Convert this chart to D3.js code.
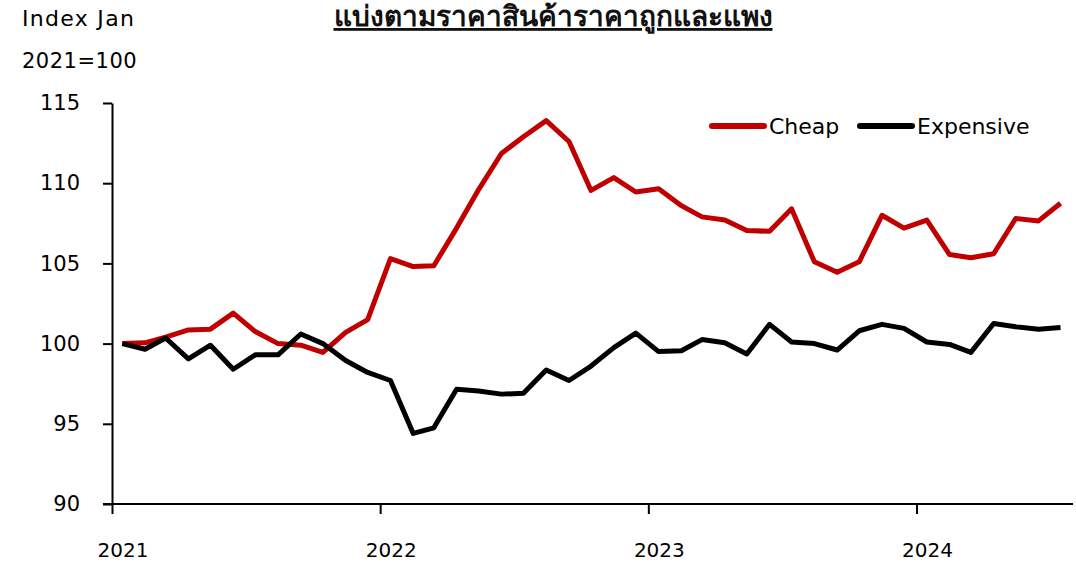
<!DOCTYPE html>
<html>
<head>
<meta charset="utf-8">
<script src="https://cdn.jsdelivr.net/npm/d3@7"></script>
<style>
  body { margin: 0; background: #fff; }
  svg { font-family: "DejaVu Sans", "Noto Sans", sans-serif; }
</style>
</head>
<body>
<svg id="chart"></svg>
<script>
// monthly index, Jan 2021 = 100
const cheap = [100, 100.05, 100.4, 100.85, 100.9, 101.9, 100.75, 100.0, 99.9, 99.45, 100.7, 101.5,
  105.3, 104.8, 104.85, 107.2, 109.6, 111.85, 112.9, 113.9, 112.6, 109.55, 110.35, 109.45,
  109.65, 108.6, 107.9, 107.7, 107.05, 107.0, 108.4, 105.1, 104.45, 105.1, 108.0, 107.2,
  107.7, 105.55, 105.35, 105.6, 107.8, 107.65, 108.75];
const expensive = [100, 99.65, 100.35, 99.05, 99.9, 98.4, 99.3, 99.3, 100.6, 100.0, 98.95, 98.2,
  97.7, 94.4, 94.75, 97.15, 97.05, 96.85, 96.9, 98.35, 97.7, 98.6, 99.75, 100.65,
  99.5, 99.55, 100.25, 100.05, 99.35, 101.2, 100.1, 100.0, 99.6, 100.8, 101.2, 100.95,
  100.1, 99.95, 99.45, 101.25, 101.05, 100.9, 101.0];
const yTicks = [90, 95, 100, 105, 110, 115];
const years = [2021, 2022, 2023, 2024];
const seriesNames = ["Cheap", "Expensive"];
const seriesColors = ["#c00000", "#000000"];

const width = 1076, height = 562;
const margin = {left: 112, right: 3, top: 103, bottom: 58};
const font = "DejaVu Sans, Noto Sans, sans-serif";

const months = cheap.map((d, i) => new Date(2021, i, 15));

const svg = d3.select("#chart").attr("width", width).attr("height", height);

const x = d3.scaleTime()
  .domain([new Date(2021, 0, 1), new Date(2024, 7, 1)])
  .range([margin.left, width - margin.right]);

const y = d3.scaleLinear()
  .domain([90, 115])
  .range([height - margin.bottom, margin.top]);

// title + unit label
svg.append("text")
  .attr("x", 553).attr("y", 26)
  .attr("text-anchor", "middle")
  .attr("font-size", 28).attr("font-weight", "bold")
  .attr("text-decoration", "underline")
  .attr("fill", "#111")
  .text("แบ่งตามราคาสินค้าราคาถูกและแพง");

svg.append("text").attr("x", 22).attr("y", 26).attr("font-size", 22)
  .attr("letter-spacing", 1.3).text("Index Jan");
svg.append("text").attr("x", 22).attr("y", 68).attr("font-size", 21)
  .attr("letter-spacing", 0.5).text("2021=100");

// y axis
const yAxis = svg.append("g")
  .attr("transform", `translate(${margin.left},0)`)
  .call(d3.axisLeft(y).tickValues(yTicks).tickSize(9).tickPadding(23).tickSizeOuter(0))
  .attr("font-family", font);
yAxis.select(".domain").attr("stroke-width", 2);
yAxis.selectAll(".tick line").attr("stroke-width", 2);
yAxis.selectAll(".tick text").attr("font-size", 21).attr("fill", "#000");

// x axis
const xAxis = svg.append("g")
  .attr("transform", `translate(0,${y(90)})`)
  .call(d3.axisBottom(x).tickValues(years.map(yr => new Date(yr, 0, 1))).tickSize(10).tickFormat("").tickSizeOuter(0));
xAxis.select(".domain").attr("stroke-width", 2).attr("d", `M${margin.left - 9},0H${width - margin.right}`);
xAxis.selectAll(".tick line").attr("stroke-width", 2);

svg.selectAll(".year")
  .data(years)
  .join("text")
  .attr("class", "year")
  .attr("x", d => x(new Date(d, 0, 16)))
  .attr("y", 557)
  .attr("text-anchor", "middle")
  .attr("font-size", 20)
  .text(d => d);

// lines
const line = d3.line()
  .x((d, i) => x(months[i]))
  .y(d => y(d));

[cheap, expensive].forEach((s, k) => {
  svg.append("path")
    .datum(s)
    .attr("fill", "none")
    .attr("stroke", seriesColors[k])
    .attr("stroke-width", 5)
    .attr("stroke-linejoin", "round")
    .attr("d", line);
});

// legend
const legendX = [712, 860];
const legend = svg.selectAll(".legend")
  .data(seriesNames)
  .join("g")
  .attr("class", "legend")
  .attr("transform", (d, i) => `translate(${legendX[i]},126)`);
legend.append("line")
  .attr("x1", 0).attr("x2", 52)
  .attr("stroke", (d, i) => seriesColors[i])
  .attr("stroke-width", 6)
  .attr("stroke-linecap", "round");
legend.append("text")
  .attr("x", 57).attr("y", 8)
  .attr("font-size", 22)
  .text(d => d);
</script>
</body>
</html>
